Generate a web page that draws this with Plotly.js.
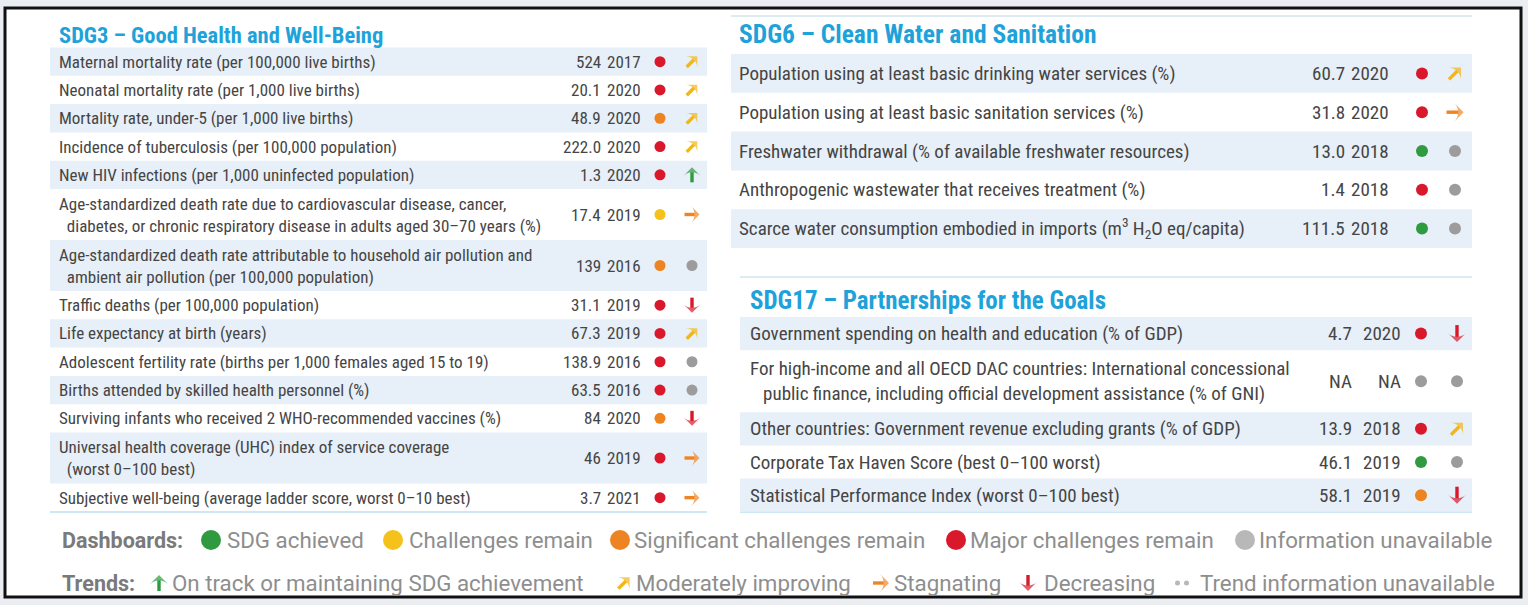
<!DOCTYPE html>
<html><head><meta charset="utf-8">
<script src="https://cdn.plot.ly/plotly-3.0.1.min.js"></script>
<style>html,body{margin:0;padding:0;background:#eaeef2;} #chart{width:1528px;height:605px;}</style>
</head><body><div id="chart"></div>
<script>
// ---------- DATA ----------
const sdg3Title = 'SDG3 – Good Health and Well-Being';
const sdg3Labels = [
  'Maternal mortality rate (per 100,000 live births)',
  'Neonatal mortality rate (per 1,000 live births)',
  'Mortality rate, under-5 (per 1,000 live births)',
  'Incidence of tuberculosis (per 100,000 population)',
  'New HIV infections (per 1,000 uninfected population)',
  'Age-standardized death rate due to cardiovascular disease, cancer,\n diabetes, or chronic respiratory disease in adults aged 30–70 years (%)',
  'Age-standardized death rate attributable to household air pollution and\n ambient air pollution (per 100,000 population)',
  'Traffic deaths (per 100,000 population)',
  'Life expectancy at birth (years)',
  'Adolescent fertility rate (births per 1,000 females aged 15 to 19)',
  'Births attended by skilled health personnel (%)',
  'Surviving infants who received 2 WHO-recommended vaccines (%)',
  'Universal health coverage (UHC) index of service coverage\n (worst 0–100 best)',
  'Subjective well-being (average ladder score, worst 0–10 best)'
];
const sdg3Values = ['524','20.1','48.9','222.0','1.3','17.4','139','31.1','67.3','138.9','63.5','84','46','3.7'];
const sdg3Years  = ['2017','2020','2020','2020','2020','2019','2016','2019','2019','2016','2016','2020','2019','2021'];
const sdg3Status = ['major','major','significant','major','major','challenges','significant','major','major','major','major','significant','major','major'];
const sdg3Trend  = ['improving','improving','improving','improving','ontrack','stagnating','na','decreasing','improving','na','na','decreasing','stagnating','stagnating'];

const sdg6Title = 'SDG6 – Clean Water and Sanitation';
const sdg6Labels = [
  'Population using at least basic drinking water services (%)',
  'Population using at least basic sanitation services (%)',
  'Freshwater withdrawal (% of available freshwater resources)',
  'Anthropogenic wastewater that receives treatment (%)',
  'Scarce water consumption embodied in imports (m<sup>3</sup> H<sub>2</sub>O eq/capita)'
];
const sdg6Values = ['60.7','31.8','13.0','1.4','111.5'];
const sdg6Years  = ['2020','2020','2018','2018','2018'];
const sdg6Status = ['major','major','achieved','major','achieved'];
const sdg6Trend  = ['improving','stagnating','na','na','na'];

const sdg17Title = 'SDG17 – Partnerships for the Goals';
const sdg17Labels = [
  'Government spending on health and education (% of GDP)',
  'For high-income and all OECD DAC countries: International concessional\n public finance, including official development assistance (% of GNI)',
  'Other countries: Government revenue excluding grants (% of GDP)',
  'Corporate Tax Haven Score (best 0–100 worst)',
  'Statistical Performance Index (worst 0–100 best)'
];
const sdg17Values = ['4.7','NA','13.9','46.1','58.1'];
const sdg17Years  = ['2020','NA','2018','2019','2019'];
const sdg17Status = ['major','na','major','achieved','significant'];
const sdg17Trend  = ['decreasing','na','improving','na','decreasing'];

const dashboardKeys   = ['achieved','challenges','significant','major','na'];
const dashboardLabels = ['SDG achieved','Challenges remain','Significant challenges remain','Major challenges remain','Information unavailable'];
const trendKeys   = ['ontrack','improving','stagnating','decreasing','na'];
const trendLabels = ['On track or maintaining SDG achievement','Moderately improving','Stagnating','Decreasing','Trend information unavailable'];

// ---------- STYLE / LAYOUT ----------
const statusColor = {achieved:'#2f9a3f', challenges:'#f5c21b', significant:'#ee8321', major:'#d9182b', na:'#9c9c9c'};
const trendColor  = {ontrack:'#2f9a3f', improving:'#f2b716', stagnating:'#ef8522', decreasing:'#d9182b', na:'#9c9c9c'};
const FONT = 'Liberation Sans Narrow, Roboto Condensed, Arial Narrow, Roboto, sans-serif';
const TXT = '#454545';
const BAND = '#e7eff8';

const panels = [
  {title:sdg3Title, labels:sdg3Labels, values:sdg3Values, years:sdg3Years, status:sdg3Status, trend:sdg3Trend,
   x0:50, x1:707, top:47.5, single:28.3, dbl:51, labelX:57, valRight:603, yearRight:643, dotX:660, arrX:692,
   fs:17, titleX:57, titleY:35, titleFs:22.5, dot:11, arrLen:15, head:12, indent:'\u00a0\u00a0', topLine:null, bottomLine:512},
  {title:sdg6Title, labels:sdg6Labels, values:sdg6Values, years:sdg6Years, status:sdg6Status, trend:sdg6Trend,
   x0:731, x1:1472, top:54, single:38.8, dbl:60, labelX:737, valRight:1347, yearRight:1391, dotX:1422, arrX:1455,
   fs:19, titleX:737, titleY:34, titleFs:25.5, dot:12, arrLen:17, head:13, indent:'\u00a0\u00a0', topLine:16, bottomLine:246},
  {title:sdg17Title, labels:sdg17Labels, values:sdg17Values, years:sdg17Years, status:sdg17Status, trend:sdg17Trend,
   x0:740, x1:1472, top:317, single:33.2, dbl:62, labelX:748, valRight:1354, yearRight:1403, dotX:1421, arrX:1457,
   fs:19, titleX:748, titleY:300, titleFs:25, dot:12, arrLen:17, head:13, indent:'\u00a0\u00a0\u00a0', topLine:277, bottomLine:512}
];

const shapes = [];
const annotations = [];
const traces = [];
const arrowSegs = {};

shapes.push({type:'rect', xref:'x', yref:'y', x0:5, x1:1521, y0:8, y1:597, fillcolor:'#ffffff', line:{color:'#111', width:3}, layer:'below'});

function arrow(cx, cy, kind, L, head) {
  const dirs = {improving:[0.7071,-0.7071], stagnating:[1,0], decreasing:[0,1], ontrack:[0,-1]};
  const d = dirs[kind];
  if (!arrowSegs[kind]) arrowSegs[kind] = {x:[], y:[], s:[]};
  const a = arrowSegs[kind];
  a.x.push(cx - d[0]*L/2, cx + d[0]*L/2, null);
  a.y.push(cy - d[1]*L/2, cy + d[1]*L/2, null);
  a.s.push(0, head, 0);
}

panels.forEach(p => {
  annotations.push({x:p.titleX, y:p.titleY, xref:'x', yref:'y', xanchor:'left', yanchor:'middle', showarrow:false,
    text:'<b>'+p.title+'</b>', font:{family:FONT, size:p.titleFs, color:'#1ea2d9'}});
  if (p.topLine !== null) shapes.push({type:'line', xref:'x', yref:'y', x0:p.x0, x1:p.x1, y0:p.topLine, y1:p.topLine, line:{color:'#dcebf2', width:2}, layer:'below'});
  shapes.push({type:'line', xref:'x', yref:'y', x0:p.x0, x1:p.x1, y0:p.bottomLine, y1:p.bottomLine, line:{color:'#cde8f2', width:2}, layer:'below'});
  let y = p.top;
  const dotX=[], dotY=[], dotC=[];
  p.labels.forEach((lab, i) => {
    const lines = lab.split('\n');
    const h = lines.length > 1 ? p.dbl : p.single;
    const cy = y + h/2;
    if (i % 2 === 0) shapes.push({type:'rect', xref:'x', yref:'y', x0:p.x0, x1:p.x1, y0:y, y1:y+h, fillcolor:BAND, line:{width:0}, layer:'below'});
    const txt = lines.map((l, k) => k === 0 ? l : p.indent + l.trim()).join('<br>');
    annotations.push({x:p.labelX, y:cy, xref:'x', yref:'y', xanchor:'left', yanchor:'middle', align:'left', showarrow:false,
      text:txt, font:{family:FONT, size:p.fs, color:TXT}});
    annotations.push({x:p.valRight, y:cy, xref:'x', yref:'y', xanchor:'right', yanchor:'middle', showarrow:false,
      text:p.values[i], font:{family:FONT, size:p.fs, color:TXT}});
    annotations.push({x:p.yearRight, y:cy, xref:'x', yref:'y', xanchor:'right', yanchor:'middle', showarrow:false,
      text:p.years[i], font:{family:FONT, size:p.fs, color:TXT}});
    dotX.push(p.dotX); dotY.push(cy); dotC.push(statusColor[p.status[i]]);
    if (p.trend[i] === 'na') { dotX.push(p.arrX); dotY.push(cy); dotC.push(statusColor.na); }
    else arrow(p.arrX, cy, p.trend[i], p.arrLen, p.head);
    y += h;
  });
  traces.push({type:'scatter', mode:'markers', x:dotX, y:dotY, hoverinfo:'skip',
    marker:{size:p.dot, color:dotC, line:{width:0}}, showlegend:false});
});

// ----- legend rows -----
const LEGFONT = 'Roboto, sans-serif';
const LEGFS = 22.3;
const legGrey = '#8e8e8e';
annotations.push({x:60, y:540, xref:'x', yref:'y', xanchor:'left', yanchor:'middle', showarrow:false,
  text:'<b>Dashboards:</b>', font:{family:LEGFONT, size:21.5, color:'#7a7a7a'}});
annotations.push({x:60, y:583, xref:'x', yref:'y', xanchor:'left', yanchor:'middle', showarrow:false,
  text:'<b>Trends:</b>', font:{family:LEGFONT, size:21.5, color:'#7a7a7a'}});
const dashDotX = [211, 393, 620, 956, 1245];
const dashTextX = [225, 407, 632, 968, 1257];
const lx=[], ly=[], lc=[];
dashboardKeys.forEach((k, i) => {
  lx.push(dashDotX[i]); ly.push(540); lc.push(k === 'na' ? '#b8b8b8' : statusColor[k]);
  annotations.push({x:dashTextX[i], y:540, xref:'x', yref:'y', xanchor:'left', yanchor:'middle', showarrow:false,
    text:dashboardLabels[i], font:{family:LEGFONT, size:LEGFS, color:legGrey}});
});
traces.push({type:'scatter', mode:'markers', x:lx, y:ly, hoverinfo:'skip', marker:{size:20, color:lc, line:{width:0}}, showlegend:false});
const trendMarkX = [159, 624, 881, 1028, 1182];
const trendTextX = [170, 634, 892, 1042, 1198];
const tdx=[], tdy=[];
trendKeys.forEach((k, i) => {
  if (k === 'na') { tdx.push(trendMarkX[i]-4.5, trendMarkX[i]+4.5); tdy.push(583, 583); }
  else arrow(trendMarkX[i], 583, k, 16, 13);
  annotations.push({x:trendTextX[i], y:583, xref:'x', yref:'y', xanchor:'left', yanchor:'middle', showarrow:false,
    text:trendLabels[i], font:{family:LEGFONT, size:LEGFS, color:legGrey}});
});
traces.push({type:'scatter', mode:'markers', x:tdx, y:tdy, hoverinfo:'skip', marker:{size:5, color:'#b8b8b8'}, showlegend:false});

Object.keys(arrowSegs).forEach(k => {
  const a = arrowSegs[k];
  traces.push({type:'scatter', mode:'lines+markers', x:a.x, y:a.y, hoverinfo:'skip', connectgaps:false, showlegend:false,
    line:{color:trendColor[k], width:3.4},
    marker:{symbol:'arrow-wide', angleref:'previous', size:a.s, color:trendColor[k], line:{width:0}}});
});

const layout = {
  width:1528, height:605, margin:{l:0, r:0, t:0, b:0},
  paper_bgcolor:'#eaeef2', plot_bgcolor:'rgba(0,0,0,0)',
  xaxis:{range:[0,1528], visible:false, fixedrange:true},
  yaxis:{range:[605,0], visible:false, fixedrange:true},
  shapes:shapes, annotations:annotations, showlegend:false
};
Plotly.newPlot('chart', traces, layout, {displayModeBar:false, staticPlot:true});
</script></body></html>
